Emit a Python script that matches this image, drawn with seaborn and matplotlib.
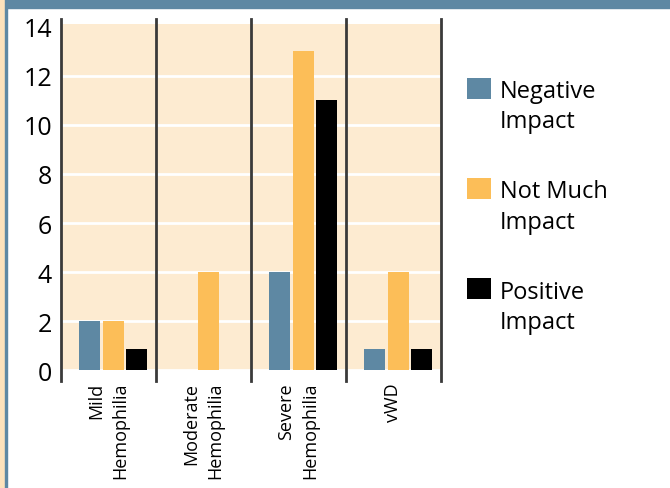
import pandas as pd
import matplotlib.pyplot as plt
import seaborn as sb
import numpy as np
from matplotlib.patches import Rectangle
from matplotlib.legend_handler import HandlerPatch

categories = ['Mild\nHemophilia', 'Moderate\nHemophilia', 'Severe\nHemophilia', 'vWD']
impacts = ['Negative\nImpact', 'Not Much\nImpact', 'Positive\nImpact']
negative = [2, 0, 4, 0.85]
not_much = [2, 4, 13, 4]
positive = [0.85, 0, 11, 0.85]
colors = ['#5e88a3', '#fcbe58', '#000000']
y_ticks = [0, 2, 4, 6, 8, 10, 12, 14]

df = pd.DataFrame({'group': categories * 3,
                   'impact': np.repeat(impacts, len(categories)),
                   'count': negative + not_much + positive})

plt.rcParams['font.family'] = ['Open Sans', 'DejaVu Sans']
fig = plt.figure(figsize=(6.7, 4.89), dpi=100)
ax = fig.add_axes([0.091, 0.241, 0.567, 0.708])
ax.set_facecolor('#fdebd1')

sb.barplot(data=df, x='group', y='count', hue='impact', hue_order=impacts,
           palette=colors, width=0.74, gap=0.1, saturation=1, ax=ax)

# stlpce su v povodnom grafe mierne posunute doprava od oddelovacov
shift = 0.05
ax.set_xlim(-0.5 - shift, len(categories) - 0.5 - shift)
ax.set_ylim(0, 14.12)
ax.set_yticks(y_ticks)
ax.set_xticks(np.arange(len(categories)) - shift, categories)
ax.yaxis.grid(True, color='white', linewidth=2)
ax.yaxis.get_gridlines()[-1].set_visible(False)
ax.set_axisbelow(True)
for s in ax.spines.values():
    s.set_visible(False)
ax.set(xlabel='', ylabel='')
ax.tick_params(axis='y', length=0, pad=6.5, labelsize=18)
ax.tick_params(axis='x', length=0, pad=8.5, labelsize=13)
for lab in ax.get_xticklabels():
    lab.set_rotation(90)
    lab.set_multialignment('right')
    lab.set_linespacing(1.45)

# tmave oddelovace medzi skupinami
for x in np.arange(-0.5, len(categories), 1) - shift:
    ax.axvline(x, ymin=-0.032, ymax=1.015, color='#3a3a3a', lw=2, clip_on=False)


def top_square(legend, orig_handle, xdescent, ydescent, width, height, fontsize):
    """Kvadrat zarovnany k prvemu riadku popisku."""
    return Rectangle((-xdescent, -ydescent + 0.8 * fontsize), width, height)


handles, _ = ax.get_legend_handles_labels()
leg = ax.legend(handles, impacts, loc='upper left', bbox_to_anchor=(467 / 670, 1 - 80 / 489),
                bbox_transform=fig.transFigure, frameon=False, fontsize=17,
                borderpad=0, borderaxespad=0, handlelength=1.0, handleheight=1.0,
                handletextpad=0.4, labelspacing=1.95,
                handler_map={Rectangle: HandlerPatch(patch_func=top_square)})
for t in leg.get_texts():
    t.set_linespacing(1.35)

# okraje obrazku
fig.patches.append(Rectangle((0, 1 - 9 / 489), 1, 9 / 489, transform=fig.transFigure,
                             color='#5e88a3', zorder=0))
fig.patches.append(Rectangle((0, 0), 5 / 670, 1, transform=fig.transFigure,
                             color='#fde2bb', zorder=0))
fig.patches.append(Rectangle((5 / 670, 0), 2 / 670, 1, transform=fig.transFigure,
                             color='#5e88a3', zorder=0))

fig.savefig('out.png', dpi=100)
